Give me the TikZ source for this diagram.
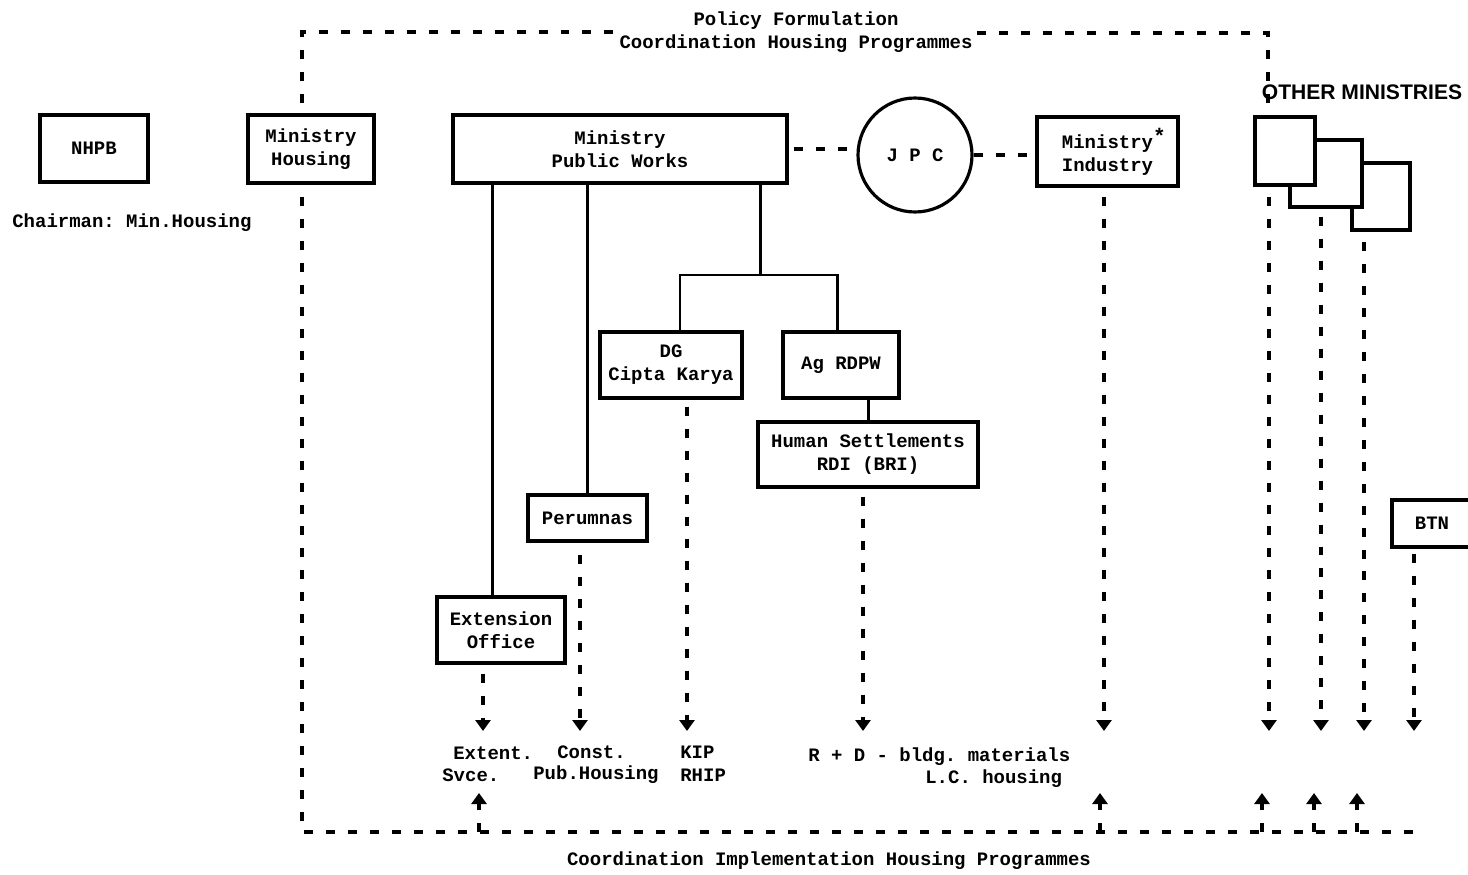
\documentclass[tikz,border=0pt]{standalone}
\usepackage{fontspec}
\setmainfont{Liberation Mono}
\newfontfamily\omfont{Liberation Sans}
\usetikzlibrary{arrows.meta}
\frenchspacing
\begin{document}
\begin{tikzpicture}[x=0.02cm,y=-0.02cm,
  font=\fontsize{10.8}{13}\selectfont\bfseries\frenchspacing,
  box/.style={draw,line width=1.8pt,inner sep=0pt,align=center,fill=white},
  sol/.style={line width=1.7pt},
  dsh/.style={line width=2.5pt,dash pattern=on 0.18cm off 0.26cm},
  dar/.style={dsh,-{Triangle[width=0.3cm,length=0.22cm]}},
  lbl/.style={inner sep=0pt,anchor=west,align=left}]
\useasboundingbox (0,0) rectangle (1468,875);
\fill[white] (0,0) rectangle (1468,875);

% frame corners
\coordinate (tl) at (302,32);
\coordinate (tr) at (1268,33);
\coordinate (bl) at (302,832);
\coordinate (br) at (1425,832);

% top / bottom texts
\node[inner sep=0.08cm,align=center] (pol) at (796,32) {Policy Formulation\\Coordination Housing Programmes};
\node[inner sep=0pt] (impl) at (829,861) {Coordination Implementation Housing Programmes};

% boxes
\node[box,minimum width=2.16cm,minimum height=1.34cm] (nhpb) at (94,148.5) {NHPB};
\node[lbl] (ch) at (12,223) {Chairman: Min.Housing};
\node[box,minimum width=2.52cm,minimum height=1.36cm] (mh) at (311,149) {Ministry\\Housing};
\node[box,minimum width=6.68cm,minimum height=1.36cm] (mpw) at (620,149) {Ministry\\Public Works};
\node[draw,circle,line width=1.8pt,minimum size=2.28cm,inner sep=0pt] (jpc) at (915,155) {J P C};
\node[box,minimum width=2.82cm,minimum height=1.38cm] (mi) at (1107.5,151.5) {Ministry\rlap{\raisebox{0.5ex}{\large *}}\\Industry};

\node[inner sep=0pt,font=\omfont\fontsize{12}{14}\selectfont\bfseries] (om) at (1362,92) {OTHER MINISTRIES};
\node[box,minimum width=1.16cm,minimum height=1.34cm] (om3) at (1381,196.5) {};
\node[box,minimum width=1.44cm,minimum height=1.34cm] (om2) at (1326,173.5) {};
\node[box,minimum width=1.2cm,minimum height=1.36cm] (om1) at (1285,151) {};

\node[box,minimum width=2.84cm,minimum height=1.32cm] (dg) at (671,365) {DG\\Cipta Karya};
\node[box,minimum width=2.32cm,minimum height=1.32cm] (ag) at (841,365) {Ag RDPW};
\node[box,minimum width=4.4cm,minimum height=1.3cm] (hs) at (868,454.5) {Human Settlements\\RDI (BRI)};
\node[box,minimum width=2.38cm,minimum height=0.92cm] (per) at (587.5,518) {Perumnas};
\node[box,minimum width=2.56cm,minimum height=1.32cm] (ext) at (501,630) {Extension\\Office};
\node[box,minimum width=1.6cm,minimum height=0.94cm] (btn) at (1432,523.5) {BTN};

% labels
\node[lbl] (l1a) at (453,753) {Extent.};
\node[lbl] (l1b) at (442,775) {Svce.};
\node[lbl] (l2a) at (557,752) {Const.};
\node[lbl] (l2b) at (533,775) {Pub.Housing};
\node[lbl] (l3) at (680,764) {KIP\\RHIP};
\node[lbl] (l4a) at (808,757) {R + D - bldg. materials};
\node[lbl] (l4b) at (925,779) {L.C. housing};

% frame (dashed)
\draw[dsh,shorten <=0.2cm] (tl |- mh.north) -- (tl) -- (tl -| pol.west);
\draw[dsh] (tr -| pol.east) -- (tr) -- (tr |- om1.north);
\draw[dsh,shorten <=0.24cm] (bl |- mh.south) -- (bl) -- (br);

% JPC links
\draw[dsh,shorten <=0.1cm,shorten >=0.15cm] (mpw.east) -- (mpw.east -| jpc.west);
\draw[dsh] (jpc.east) -- (jpc.east -| mi.west);

% tree (solid)
\coordinate (brn) at (760,275);
\draw[sol] ([xshift=-0.18cm]ext.north) -- ([xshift=-0.18cm]ext.north |- mpw.south);
\draw[sol] (per.north) -- (per.north |- mpw.south);
\draw[sol] (mpw.south -| brn) -- (brn);
\draw[sol] ([xshift=0.18cm]dg.north) -- ([xshift=0.18cm]dg.north |- brn) -- ([xshift=-0.08cm]ag.north |- brn) -- ([xshift=-0.08cm]ag.north);
\draw[sol] (hs.north) -- (hs.north |- ag.south);

% down arrows
\coordinate (e1) at (483,731);
\coordinate (e2) at (580,731);
\coordinate (e3) at (687,731);
\coordinate (e4) at (863,731);
\coordinate (e5) at (1104,731);
\coordinate (e6) at (1269,731);
\coordinate (e7) at (1321,731);
\coordinate (e8) at (1364,731);
\coordinate (e9) at (1414,731);
\draw[dar,shorten <=0.18cm] (e1 |- ext.south) -- (e1);
\draw[dar,shorten <=0.24cm] (e2 |- per.south) -- (e2);
\draw[dar,shorten <=0.14cm] (e3 |- dg.south) -- (e3);
\draw[dar,shorten <=0.16cm] (e4 |- hs.south) -- (e4);
\draw[dar,shorten <=0.18cm] (e5 |- mi.south) -- (e5);
\draw[dar,shorten <=0.2cm] (e6 |- om1.south) -- (e6);
\draw[dar,shorten <=0.16cm] (e7 |- om2.south) -- (e7);
\draw[dar,shorten <=0.2cm] (e8 |- om3.south) -- (e8);
\draw[dar,shorten <=0.1cm] (e9 |- btn.south) -- (e9);

% up arrows
\coordinate (u1) at (479,793);
\coordinate (u2) at (1100,793);
\coordinate (u3) at (1262,793);
\coordinate (u4) at (1314,793);
\coordinate (u5) at (1357,793);
\draw[dar] (u1 |- br) -- (u1);
\draw[dar] (u2 |- br) -- (u2);
\draw[dar] (u3 |- br) -- (u3);
\draw[dar] (u4 |- br) -- (u4);
\draw[dar] (u5 |- br) -- (u5);
\end{tikzpicture}
\end{document}
